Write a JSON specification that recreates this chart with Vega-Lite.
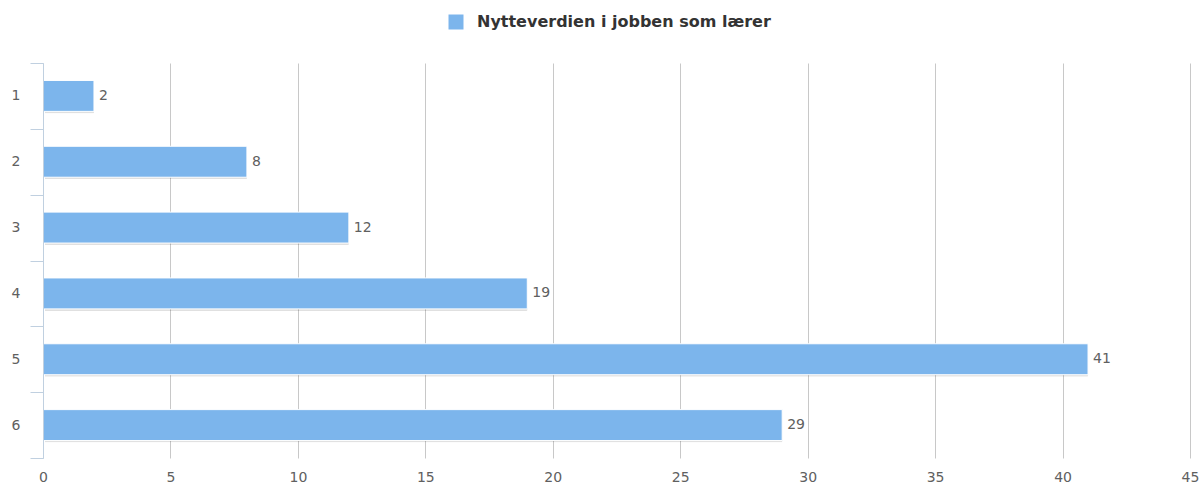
{
  "$schema": "https://vega.github.io/schema/vega-lite/v6.json",
  "width": 1147,
  "height": 395,
  "autosize": {"type": "none"},
  "padding": {"left": 43, "top": 63, "right": 13, "bottom": 30},
  "background": "white",
  "data": {"values": [
    {"cat": "1", "value": 2, "series": "Nytteverdien i jobben som lærer"},
    {"cat": "2", "value": 8, "series": "Nytteverdien i jobben som lærer"},
    {"cat": "3", "value": 12, "series": "Nytteverdien i jobben som lærer"},
    {"cat": "4", "value": 19, "series": "Nytteverdien i jobben som lærer"},
    {"cat": "5", "value": 41, "series": "Nytteverdien i jobben som lærer"},
    {"cat": "6", "value": 29, "series": "Nytteverdien i jobben som lærer"}
  ]},
  "config": {
    "view": {"stroke": null},
    "font": "DejaVu Sans"
  },
  "encoding": {
    "y": {
      "field": "cat", "type": "nominal", "sort": null,
      "scale": {"paddingInner": 0, "paddingOuter": 0},
      "axis": {
        "title": null, "tickBand": "extent", "tickSize": 13, "tickColor": "#C0D0E0",
        "domainColor": "#C0D0E0", "labelPadding": 10, "labelFontSize": 14,
        "labelColor": "#606060", "labelFont": "DejaVu Sans", "grid": false, "zindex": 1
      }
    },
    "x": {
      "field": "value", "type": "quantitative",
      "scale": {"domain": [0, 45], "nice": false},
      "axis": {
        "title": null, "values": [0, 5, 10, 15, 20, 25, 30, 35, 40, 45],
        "ticks": false, "tickSize": 0, "domain": false, "labelPadding": 12,
        "labelFontSize": 14, "labelColor": "#606060", "labelFont": "DejaVu Sans",
        "grid": true, "gridColor": "#C8C8C8", "gridWidth": 1, "labelFlush": false
      }
    }
  },
  "layer": [
    {
      "mark": {"type": "bar", "height": {"band": 0.47}, "color": "#000000", "opacity": 0.12, "xOffset": 2, "yOffset": 2, "cornerRadius": 1}
    },
    {
      "mark": {"type": "bar", "height": {"band": 0.47}, "stroke": "white", "strokeWidth": 1},
      "encoding": {
        "color": {
          "field": "series", "type": "nominal",
          "scale": {"range": ["#7cb5ec"]},
          "legend": {
            "title": null, "orient": "none", "legendX": 405, "legendY": -49,
            "symbolType": "square", "symbolSize": 225, "symbolStrokeWidth": 0,
            "symbolOpacity": 1, "labelFontSize": 16, "labelFontWeight": "bold",
            "labelColor": "#333333", "labelFont": "DejaVu Sans", "labelOffset": 13, "padding": 0,
            "labelLimit": 0
          }
        }
      }
    },
    {
      "mark": {"type": "text", "align": "left", "dx": 5, "fontSize": 14, "color": "#606060", "font": "DejaVu Sans"},
      "encoding": {"text": {"field": "value", "type": "quantitative"}}
    }
  ]
}
